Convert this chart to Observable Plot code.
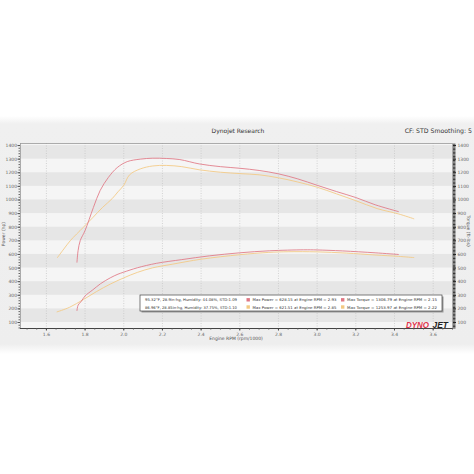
<!DOCTYPE html>
<html><head><meta charset="utf-8">
<script src="https://cdn.jsdelivr.net/npm/d3@7"></script>
<script src="https://cdn.jsdelivr.net/npm/@observablehq/plot@0.6"></script>
<style>
html,body{margin:0;padding:0;background:#fff;}
#wrap{position:relative;width:474px;height:474px;overflow:hidden;
background:linear-gradient(to bottom,#fff 0,#fff 116px,#f0f0f0 124px,#eeeeee 344px,#fff 354px,#fff 100%);}
</style></head><body><div id="wrap"></div>
<script>
// ---- data ----
const rpmTicks = [1.6, 1.8, 2.0, 2.2, 2.4, 2.6, 2.8, 3.0, 3.2, 3.4, 3.6];
const valueTicks = [100, 200, 300, 400, 500, 600, 700, 800, 900, 1000, 1100, 1200, 1300, 1400];
const bandStarts = [100, 300, 500, 700, 900, 1100, 1300];

const torqueRunA = [[1.758,543],[1.764,630],[1.775,702],[1.80,776],[1.843,945],[1.878,1070],[1.92,1165],[1.966,1238],[2.018,1282],[2.085,1300],[2.15,1307],[2.22,1305],[2.29,1297],[2.39,1265],[2.5,1245],[2.6,1233],[2.7,1217],[2.8,1192],[2.9,1155],[3.0,1108],[3.1,1062],[3.2,1018],[3.3,965],[3.42,915]];
const torqueRunB = [[1.657,577],[1.69,640],[1.724,702],[1.79,798],[1.84,871],[1.89,945],[1.94,1010],[1.97,1060],[2.0,1108],[2.03,1185],[2.085,1228],[2.15,1250],[2.22,1254],[2.3,1245],[2.39,1222],[2.5,1204],[2.6,1194],[2.7,1185],[2.8,1163],[2.9,1132],[3.0,1094],[3.1,1045],[3.2,995],[3.31,937],[3.42,898],[3.50,862]];
const powerRunA = [[1.758,188],[1.764,228],[1.78,255],[1.80,295],[1.84,340],[1.88,385],[1.93,428],[1.97,455],[2.0,470],[2.07,502],[2.17,535],[2.3,562],[2.445,590],[2.6,612],[2.755,627],[2.93,634],[3.0,633],[3.13,626],[3.3,612],[3.42,600]];
const powerRunB = [[1.655,178],[1.72,212],[1.79,268],[1.86,328],[1.93,382],[2.0,428],[2.07,468],[2.15,502],[2.25,528],[2.4,565],[2.6,598],[2.75,615],[2.85,620],[3.0,619],[3.15,610],[3.3,596],[3.42,586],[3.50,577]];

const seriesColors = ["#e07784", "#f3c982"];
const titleText = "Dynojet Research";
const cornerText = "CF: STD Smoothing: 5";
const xLabel = "Engine RPM (rpm/1000)";
const yLabelLeft = "Power (hp)";
const yLabelRight = "Torque (ft-lbs)";
const conditions = ["95.32°F, 28.9in-hg, Humidity: 44.08%, STD:1.09", "86.96°F, 28.85in-hg, Humidity: 37.75%, STD:1.10"];
const maxPower = ["Max Power = 628.15 at Engine RPM = 2.93", "Max Power = 621.51 at Engine RPM = 2.85"];
const maxTorque = ["Max Torque = 1306.79 at Engine RPM = 2.15", "Max Torque = 1253.97 at Engine RPM = 2.22"];
const logoParts = ["DYNO", "JET"];

// ---- derived tables ----
const toRows = (arr) => arr.map(([rpm, v]) => ({rpm, v}));
const bands = bandStarts.map(b => ({lo: b, hi: b + 100}));
const minorX = d3.range(1.5, 3.701, 0.05);
const minorY = d3.range(60, 1411, 20);
const font = "DejaVu Sans, Verdana, sans-serif";
const blank = () => "";
const plain = d => String(d);

const chart = Plot.plot({
  width: 474, height: 474,
  marginLeft: 20, marginRight: 22, marginTop: 143, marginBottom: 146,
  style: {background: "transparent", fontFamily: font, fontSize: "4.5px", color: "#555", overflow: "visible"},
  x: {domain: [1.466, 3.70], label: null},
  y: {domain: [56, 1415], label: null},
  marks: [
    Plot.frame({fill: "#f5f5f5"}),
    Plot.rect(bands, {y1: "lo", y2: "hi", fill: "#e6e6e6"}),
    Plot.ruleX(rpmTicks, {stroke: "#c4c4c4", strokeWidth: 0.7, strokeDasharray: "1,1.5"}),
    Plot.line(toRows(torqueRunB), {x: "rpm", y: "v", stroke: seriesColors[1], strokeWidth: 0.85, curve: "catmull-rom"}),
    Plot.line(powerRunB, {x: d => d[0], y: d => d[1], stroke: seriesColors[1], strokeWidth: 0.85, curve: "catmull-rom"}),
    Plot.line(toRows(torqueRunA), {x: "rpm", y: "v", stroke: seriesColors[0], strokeWidth: 0.85, curve: "catmull-rom"}),
    Plot.line(powerRunA, {x: d => d[0], y: d => d[1], stroke: seriesColors[0], strokeWidth: 0.85, curve: "catmull-rom"}),
    Plot.frame({stroke: "#9a9a9a", strokeWidth: 0.8}),
    Plot.ruleY([56], {stroke: "#444", strokeWidth: 1.2}),
    Plot.axisX(minorX, {tickSize: 1.5, tickFormat: blank, stroke: "#555", label: null}),
    Plot.axisX(rpmTicks, {tickSize: 2.5, tickPadding: 1.5, tickFormat: d3.format(".1f"), fill: "#666", stroke: "#444", label: null}),
    Plot.axisY(minorY, {anchor: "left", tickSize: 1.5, tickFormat: blank, stroke: "#666", label: null}),
    Plot.axisY(valueTicks, {anchor: "left", tickSize: 2.5, tickPadding: 1, tickFormat: plain, fill: "#666", stroke: "#555", label: null}),
    Plot.axisY(d3.range(60, 1411, 10), {anchor: "right", tickSize: 2.5, tickFormat: blank, stroke: "#333", label: null}),
    Plot.axisY(valueTicks, {anchor: "right", tickSize: 3, tickPadding: 2, tickFormat: plain, fill: "#666", stroke: "#222", label: null})
  ]
});

document.getElementById("wrap").appendChild(chart);

// ---- annotations ----
const svg = d3.select(chart);
const g = svg.append("g").attr("font-family", font);
g.append("text").attr("x", 238).attr("y", 133).attr("text-anchor", "middle").attr("font-size", 6).attr("fill", "#333").text(titleText);
g.append("text").attr("x", 472).attr("y", 133).attr("text-anchor", "end").attr("font-size", 6.2).attr("fill", "#333").text(cornerText);
g.append("text").attr("x", 236).attr("y", 340).attr("text-anchor", "middle").attr("font-size", 4.5).attr("fill", "#555").text(xLabel);
g.append("text").attr("transform", "translate(5,234) rotate(-90)").attr("text-anchor", "middle").attr("font-size", 4.5).attr("fill", "#555").text(yLabelLeft);
g.append("text").attr("transform", "translate(467,231) rotate(90)").attr("text-anchor", "middle").attr("font-size", 4.5).attr("fill", "#555").text(yLabelRight);

// legend box
const lg = g.append("g").attr("text-anchor", "start");
lg.append("rect").attr("x", 141.5).attr("y", 296.5).attr("width", 302).attr("height", 16).attr("fill", "#9a9a9a");
lg.append("rect").attr("x", 140).attr("y", 295).attr("width", 302).attr("height", 16).attr("fill", "#fff").attr("stroke", "#444").attr("stroke-width", 0.7);
const addLegendText = (x, y, w, s) => lg.append("text").attr("x", x).attr("y", y).attr("font-size", 3.8).attr("text-anchor", "start")
  .attr("fill", "#333").attr("textLength", w).attr("lengthAdjust", "spacingAndGlyphs").text(s);
[0, 1].forEach(i => {
  const yy = 301.3 + i * 7.2;
  addLegendText(145, yy, 92, conditions[i]);
  lg.append("rect").attr("x", 246.5).attr("y", yy - 3.2).attr("width", 3.4).attr("height", 3.4).attr("fill", seriesColors[i]);
  addLegendText(252.5, yy, 84, maxPower[i]);
  lg.append("rect").attr("x", 341).attr("y", yy - 3.2).attr("width", 3.4).attr("height", 3.4).attr("fill", seriesColors[i]);
  addLegendText(347, yy, 90, maxTorque[i]);
});

// logo
const logoAttrs = (t) => t.attr("y", 327.5).attr("font-family", "Liberation Sans, Arial, sans-serif").attr("text-anchor", "start")
  .attr("font-size", 9.5).attr("font-weight", "bold").attr("font-style", "italic").attr("lengthAdjust", "spacingAndGlyphs");
logoAttrs(g.append("text")).attr("x", 406).attr("textLength", 23).attr("fill", "#e0324a").text(logoParts[0]);
logoAttrs(g.append("text")).attr("x", 432.5).attr("textLength", 15.5).attr("fill", "#222").text(logoParts[1]);
</script>
</body></html>
